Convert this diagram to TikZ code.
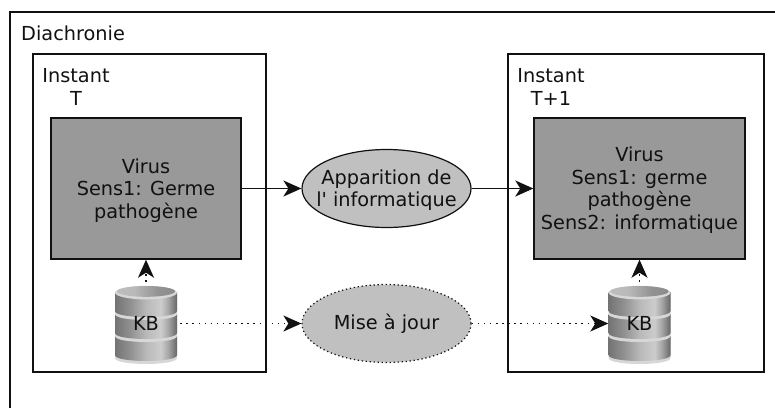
\documentclass[tikz,border=0pt]{standalone}
\usepackage{fontspec}
\setmainfont{DejaVu Sans}
\usetikzlibrary{arrows.meta,shapes.geometric}
\definecolor{col_999999}{RGB}{153,153,153}
\definecolor{col_C0C0C0}{RGB}{192,192,192}
\definecolor{col_DDDDDD}{RGB}{215,215,215}
\definecolor{col_111111}{RGB}{17,17,17}
\pgfdeclarehorizontalshading{kbside}{100bp}{color(0bp)=(gray!90!black); color(25bp)=(gray!90!black); color(38bp)=(gray!85!white); color(50bp)=(gray!55!white); color(62bp)=(gray!40!white); color(68bp)=(gray!70!white); color(75bp)=(gray!80!black); color(100bp)=(gray!80!black)}
\pgfdeclarehorizontalshading{kbtop}{100bp}{color(0bp)=(gray!45!white); color(40bp)=(gray!55!white); color(60bp)=(gray!85!white); color(100bp)=(gray)}
\newcommand{\tikzdrawkb}[2]{%
\begin{scope}[shift={(#1,#2)}]
\foreach \ytop in {44,22,0}{
\fill[col_DDDDDD] (-31,\ytop) -- (-31,\ytop+22) .. controls (-31,\ytop+30) and (31,\ytop+30) .. (31,\ytop+22) -- (31,\ytop) -- cycle;
\shade[shading=kbside] (-31,\ytop) -- (-31,\ytop+19) .. controls (-31,\ytop+27) and (31,\ytop+27) .. (31,\ytop+19) -- (31,\ytop) -- cycle;
}
\fill[col_DDDDDD] (0,0.6) ellipse[x radius=31pt,y radius=6.8pt];
\shade[shading=kbtop] (0,-0.6) ellipse[x radius=29pt,y radius=5.4pt];
\end{scope}
}
\newcommand{\toppad}{\rule{0pt}{18pt}}
\tikzset{
frame/.style={draw=col_111111,line width=1.4pt},
box/.style={draw=col_111111,line width=1.4pt,fill=col_999999,rectangle,inner sep=0pt,align=center},
event/.style={draw=col_111111,fill=col_C0C0C0,ellipse,inner sep=0pt,minimum width=169pt,minimum height=78pt,align=center},
link/.style={-{Stealth[length=18pt,width=16pt,inset=5pt]},line width=1.8pt,col_111111},
spots/.style={line width=1.4pt,dash pattern=on 1.5pt off 4.6pt},
every node/.style={font=\fontsize{19.3}{22.5}\selectfont,text=col_111111}
}
\begin{document}
\begin{tikzpicture}[x=1pt,y=-1pt]
\useasboundingbox (0,0) rectangle (775,408);
\draw[frame] (10,408) -- (10,12) -- (775,12);     %% outer frame, runs off the page
\node[anchor=west,inner sep=0pt] (diachronie) at (21,33) {Diachronie};
\draw[frame] (33,54) rectangle (266,372);
\draw[frame] (508,54) rectangle (764,372);
\node[align=center,inner sep=0pt] (instantl) at (76,87) {Instant\\T};
\node[align=center,inner sep=0pt] (instantr) at (551,87) {Instant\\T+1};
\node[box,minimum width=190pt,minimum height=141pt] (virusl) at (146,188.5) {\toppad Virus\\Sens1: Germe\\pathogène};
\node[box,minimum width=211pt,minimum height=141pt] (virusr) at (639.5,188.5) {\toppad Virus\\Sens1: germe\\pathogène\\Sens2: informatique};
\node[event,line width=1.2pt,inner xsep=-11pt] (apparition) at (386.5,188.5) {\toppad Apparition de\\l\textquotesingle{} informatique};
\node[event,line width=1.2pt,dash pattern=on 1.3pt off 2.7pt] (maj) at (386.5,323.5) {Mise à jour};
\tikzdrawkb{146}{292}
\tikzdrawkb{639.5}{292}
\node[minimum width=62pt,minimum height=77pt,inner sep=0pt] (kbl) at (146,323.5) {KB};
\node[minimum width=62pt,minimum height=77pt,inner sep=0pt] (kbr) at (639.5,323.5) {KB};
\draw[link] (virusl) -- (apparition);
\draw[link] (apparition) -- (virusr);
\draw[link,spots,shorten <=3pt] (kbl) -- (maj);
\draw[link,spots] (maj) -- (kbr);
\draw[link,spots,shorten <=3pt] (kbl) -- (virusl);
\draw[link,spots,shorten <=3pt] (kbr) -- (virusr);
\end{tikzpicture}
\end{document}
